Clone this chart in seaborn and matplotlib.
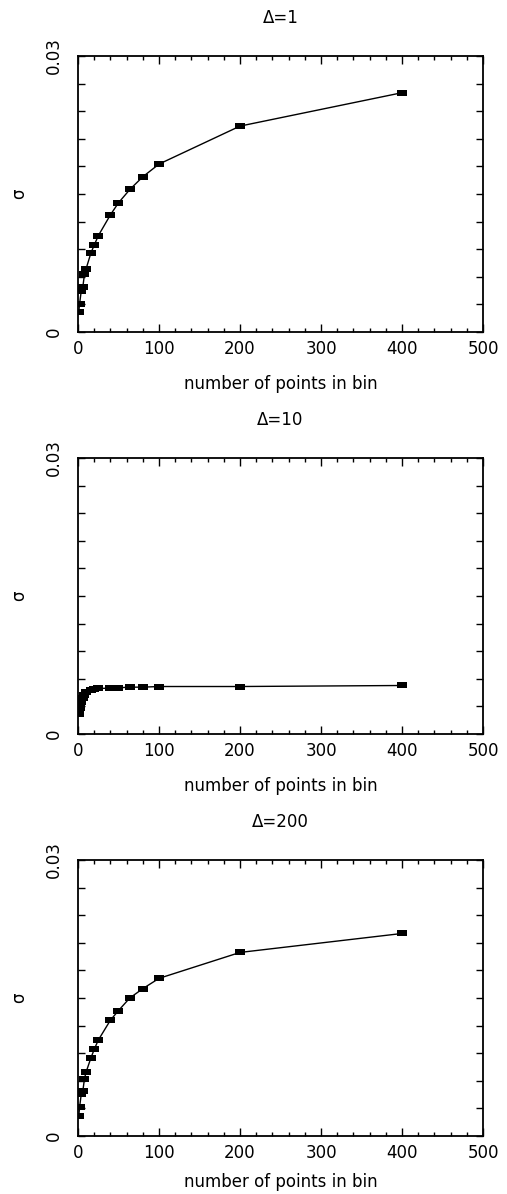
import numpy as np
import seaborn as sns
import matplotlib.pyplot as plt
from matplotlib.ticker import MultipleLocator

sns.set_style("ticks")
plt.rcParams["font.family"] = ["DejaVu Sans"]
plt.rcParams["text.color"] = "black"
plt.rcParams["axes.labelcolor"] = "black"
plt.rcParams["xtick.color"] = "black"
plt.rcParams["ytick.color"] = "black"

# number of points in bin (same for all three panels)
n_points = [1, 2, 4, 6, 8, 10, 16, 20, 25, 40, 50, 64, 80, 100, 200, 400]

# sigma for each delta
sigma_d1 = [0.00218, 0.00308, 0.00443, 0.0049, 0.00628, 0.00686, 0.0086, 0.00943,
            0.01045, 0.01273, 0.01404, 0.01549, 0.01687, 0.01825, 0.02238, 0.02601]
sigma_d10 = [0.00218, 0.00284, 0.00345, 0.00393, 0.00429, 0.00451, 0.00473, 0.00484,
             0.00495, 0.00498, 0.00502, 0.00509, 0.00509, 0.00516, 0.00516, 0.00527]
sigma_d200 = [0.00217, 0.00314, 0.00452, 0.00488, 0.00622, 0.00694, 0.00849, 0.0094,
              0.01041, 0.01258, 0.01363, 0.015, 0.01601, 0.01713, 0.01995, 0.02201]

titles = ["Δ=1", "Δ=10", "Δ=200"]
series = [sigma_d1, sigma_d10, sigma_d200]
label_pads = [12, 12, 8]

# flat rectangle marker
rect = [(-1, -0.62), (1, -0.62), (1, 0.62), (-1, 0.62), (-1, -0.62)]

fig, axes = plt.subplots(3, 1, figsize=(5.07, 11.94), dpi=100)
fig.subplots_adjust(left=0.1538, right=0.9527, top=0.9531, bottom=0.0486, hspace=0.4565)

for ax, title, sig, lp in zip(axes, titles, series, label_pads):
    sns.lineplot(x=n_points, y=sig, ax=ax, color="black", linewidth=1,
                 marker=rect, markersize=6.6, markeredgewidth=0,
                 markerfacecolor="black", estimator=None)
    ax.set_xlim(0, 500)
    ax.set_ylim(0, 0.03)
    ax.set_xticks([0, 100, 200, 300, 400, 500])
    ax.xaxis.set_minor_locator(MultipleLocator(20))
    ax.set_yticks([0, 0.03])
    ax.set_yticklabels(["0", "0.03"], rotation=90, va="center")
    ax.yaxis.set_minor_locator(MultipleLocator(0.003))
    ax.tick_params(axis="x", which="major", direction="in", length=6, width=1,
                   top=True, bottom=True, labelsize=12, pad=6)
    ax.tick_params(axis="x", which="minor", direction="in", length=3, width=1,
                   top=True, bottom=True)
    ax.tick_params(axis="y", which="both", direction="in", length=5, width=1,
                   left=True, right=True, labelsize=12, pad=11)
    for s in ax.spines.values():
        s.set_visible(True)
        s.set_linewidth(1.3)
        s.set_color("black")
    ax.set_title(title, fontsize=12, pad=24)
    ax.set_xlabel("number of points in bin", fontsize=12, labelpad=lp)
    ax.set_ylabel("σ", fontsize=12, labelpad=12)
    ax.grid(False)

plt.savefig("out.png", dpi=100)
